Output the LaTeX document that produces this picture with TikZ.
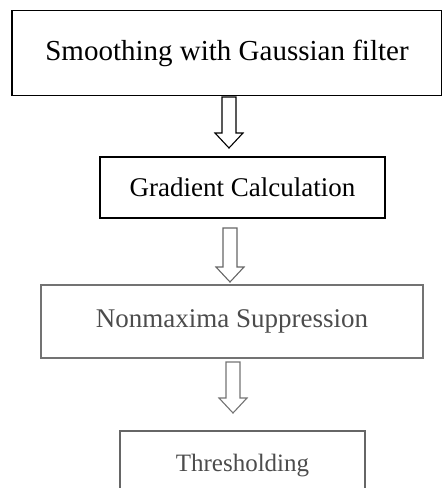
\documentclass[tikz,border=0pt]{standalone}
\usepackage{fontspec}
\setmainfont{Liberation Serif}
\usetikzlibrary{calc}
\begin{document}
\begin{tikzpicture}[x=1pt,y=-1pt,
  stepbox/.style={draw, line width=1.2pt, inner sep=0pt, font=\fontsize{27}{30}\selectfont},
  hollow/.style={line width=1.1pt, line join=miter, to path={
    let \p1=(\tikztostart), \p2=(\tikztotarget) in
    (\x1-7pt,\y1) -- (\x1-7pt,\y2+15pt) -- (\x1-14pt,\y2+15pt) -- (\x1,\y2)
    -- (\x1+14pt,\y2+15pt) -- (\x1+7pt,\y2+15pt) -- (\x1+7pt,\y1) -- cycle}}]
\useasboundingbox (0,0) rectangle (442,488);
\node[stepbox, font=\fontsize{29}{32}\selectfont, minimum width=430pt, minimum height=85pt] (b1) at (227,53) {Smoothing with Gaussian filter};
\node[stepbox, minimum width=285pt, minimum height=61pt] (b2) at (242.5,187.5) {Gradient Calculation};
\node[stepbox, draw=black!55, text=black!70, minimum width=382pt, minimum height=73pt] (b3) at (232,321.5) {Nonmaxima Suppression};
\node[stepbox, font=\fontsize{25}{28}\selectfont, draw=black!60, text=black!70, minimum width=245pt, minimum height=70pt] (b4) at (242.5,466) {Thresholding};
\coordinate (s1) at (229,97); \coordinate (e1) at (229,148);
\coordinate (s2) at (230,228); \coordinate (e2) at (230,282);
\coordinate (s3) at (233,362); \coordinate (e3) at (233,413);
\draw[hollow] (s1) to (e1);
\draw[hollow, draw=black!60] (s2) to (e2);
\draw[hollow, draw=black!55] (s3) to (e3);
\end{tikzpicture}
\end{document}
